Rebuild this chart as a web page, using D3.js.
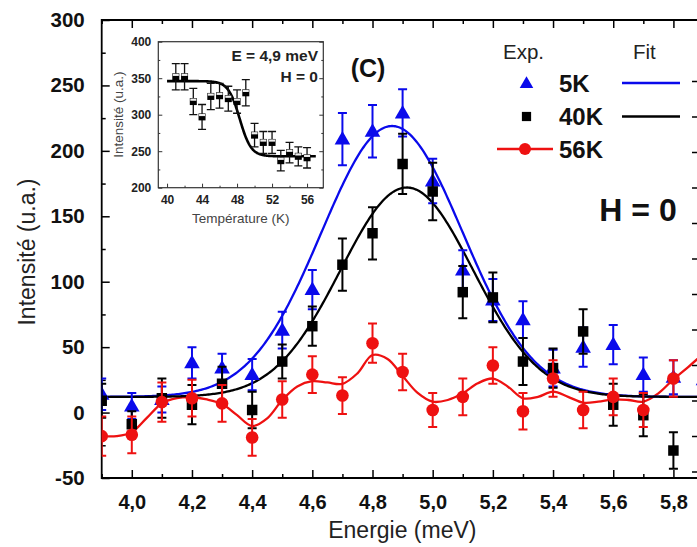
<!DOCTYPE html>
<html><head><meta charset="utf-8">
<script src="https://cdn.jsdelivr.net/npm/d3@7"></script>
<style>
body{margin:0;background:#fff}
svg{display:block}
text{font-family:"Liberation Sans",Arial,Helvetica,sans-serif}
</style>
</head><body>
<svg id="chart" width="697" height="547"></svg>
<script>
// ---------------- data ----------------
const energies = [3.9,4.0,4.1,4.2,4.3,4.4,4.5,4.6,4.7,4.8,4.9,5.0,5.1,5.2,5.3,5.4,5.5,5.6,5.7,5.8,5.9];
const i5K   = [14, 5, 10, 38, 34, 29, 63, 94, 209, 215, 229, 177, 109, 86, 71, 34, 50, 52, 29, 27, 25];
const e5K   = [12, 10, 10, 12, 11, 12, 14, 15, 20, 20, 18, 17, 15, 16, 14, 14, 15, 15, 13, 13, 13];
const i40K  = [9, -9, 11, 6, 22, 2, 39, 66, 113, 137, 190, 169, 92, 88, 39, 34, 62, 6, -2, -29, null];
const e40K  = [13, 10, 15, 15, 13, 14, 13, 15, 20, 20, 23, 22, 20, 19, 18, 15, 17, 16, 16, 14, null];
const i56K  = [-18, -17, 8, 11, 7, -19, 10, 29, 13, 53, 31, 2, 12, 36, 1, 26, 2, 12, 2, 26, 45];
const e56K  = [15, 14, 15, 14, 14, 14, 14, 14, 14, 15, 14, 13, 14, 14, 14, 14, 14, 14, 13, 14, 14];

// Gaussian fits: [baseline, amplitude, centre, sigma]
const fit5K  = [12, 207, 4.865, 0.235];
const fit40K = [12, 160, 4.914, 0.22];
// 56K fit curve
const fit56KE = [3.9,3.95,4.0,4.05,4.1,4.15,4.2,4.25,4.3,4.35,4.4,4.45,4.5,4.55,4.6,4.65,4.7,4.75,4.8,4.85,4.9,4.95,5.0,5.05,5.1,5.15,5.2,5.25,5.3,5.35,5.4,5.45,5.5,5.55,5.6,5.65,5.7,5.75,5.8,5.85,5.9];
const fit56KI = [-18,-18,-15,-4,7,11,11.7,10,6.5,-2,-10.3,-4.4,9.6,20,24,23,22,30,44,41,28,15,8.3,9.6,14.7,22.4,26,19.8,10.9,12,16,12,7.6,8.3,10,9.6,8.3,14.7,25.4,35,45];

const xMajorTicks = [4.0,4.2,4.4,4.6,4.8,5.0,5.2,5.4,5.6,5.8];
const xMinorTicks = [3.9,4.1,4.3,4.5,4.7,4.9,5.1,5.3,5.5,5.7];
const yMajorTicks = [-50,0,50,100,150,200,250,300];
const yMinorTicks = [-25,25,75,125,175,225,275];
const rightTicks  = [0,1,2,3,4,5,6,7,8,9,10,11];

// inset
const insetT   = [41,42,43,44,45,46,47,48,49,50,51,52,53,54,55,56];
const insetI   = [352,352,318,297,325,326,322,318,330,272,262,262,237,248,243,241];
const insetErr = [18,18,18,17,18,17,17,16,18,16,15,15,14,14,13,14];
const insetFit = [243, 103, 48.3, 0.65]; // low, step, mid, width
const insetXTicks = [40,44,48,52,56];
const insetXMinor = [42,46,50,54];
const insetYTicks = [200,250,300,350,400];
const insetYMinor = [225,275,325,375];

const legendLabels = ["5K","40K","56K"];

// ---------------- drawing ----------------
const svg = d3.select("#chart");
const BLUE = "#0a0aeb", RED = "#ee1111", BLACK = "#000";

const L = 101.7, R = 703.5, T = 20, B = 478;
const x = d3.scaleLinear().domain([3.9, 5.9]).range([L, R]);
const y = d3.scaleLinear().domain([-50, 300]).range([B, T]);

const fmtX = d => d.toFixed(1).replace(".", ",");

function drawAxis(axis, tf) {
  const g = svg.append("g").attr("transform", tf).call(axis);
  g.select(".domain").remove();
  g.selectAll(".tick line").attr("stroke", "#000").attr("stroke-width", 1.5);
  return g;
}
const gxb = drawAxis(d3.axisBottom(x).tickValues(xMajorTicks).tickSize(-8).tickPadding(17).tickFormat(fmtX), `translate(0,${B})`);
gxb.selectAll("text").attr("font-size", 20).attr("font-weight", "bold").attr("fill", "#111")
   .attr("font-family", "Liberation Sans, Arial, sans-serif");
drawAxis(d3.axisBottom(x).tickValues(xMinorTicks).tickSize(-4).tickFormat(""), `translate(0,${B})`);
drawAxis(d3.axisTop(x).tickValues(xMajorTicks).tickSize(-8).tickFormat(""), `translate(0,${T})`);
drawAxis(d3.axisTop(x).tickValues(xMinorTicks).tickSize(-4).tickFormat(""), `translate(0,${T})`);
const gyl = drawAxis(d3.axisLeft(y).tickValues(yMajorTicks).tickSize(-8).tickPadding(17).tickFormat(d => String(d)), `translate(${L},0)`);
gyl.selectAll("text").attr("font-size", 20.5).attr("font-weight", "bold").attr("fill", "#111")
   .attr("font-family", "Liberation Sans, Arial, sans-serif");
drawAxis(d3.axisLeft(y).tickValues(yMinorTicks).tickSize(-4).tickFormat(""), `translate(${L},0)`);
// right-hand ticks of the neighbouring (cropped) axis
const yRight = d3.scaleLinear().domain([0, 1]).range([81, 116.5]);
drawAxis(d3.axisRight(yRight).tickValues(rightTicks).tickSize(-5).tickFormat(""), `translate(697,0)`);

// frame
svg.append("path").attr("d", `M${R},${T}H${L}V${B}H${R}`).attr("fill", "none")
   .attr("stroke", "#000").attr("stroke-width", 1.8);

// axis titles
svg.append("text").attr("x", (L + 697) / 2 + 3).attr("y", 538).attr("text-anchor", "middle")
   .attr("font-size", 23).attr("fill", "#222").text("Energie (meV)");
svg.append("text").attr("transform", `translate(35,${(T + B) / 2 + 3}) rotate(-90)`)
   .attr("text-anchor", "middle").attr("font-size", 23).attr("fill", "#222").text("Intensité (u.a.)");

// plot clip
svg.append("clipPath").attr("id", "plotclip").append("rect")
   .attr("x", L).attr("y", T).attr("width", R - L).attr("height", B - T);
const plot = svg.append("g").attr("clip-path", "url(#plotclip)");

const gauss = (p, e) => p[0] + p[1] * Math.exp(-((e - p[2]) ** 2) / (2 * p[3] * p[3]));
const fineE = d3.range(3.9, 5.9001, 0.005);
const line = d3.line().x(d => x(d[0])).y(d => y(d[1]));

plot.append("path").datum(fit56KE.map((e, i) => [e, fit56KI[i]]))
    .attr("d", d3.line().x(d => x(d[0])).y(d => y(d[1])).curve(d3.curveCatmullRom.alpha(0.5)))
    .attr("fill", "none").attr("stroke", RED).attr("stroke-width", 2.3);
plot.append("path").datum(fineE.map(e => [e, gauss(fit5K, e)])).attr("d", line)
    .attr("fill", "none").attr("stroke", BLUE).attr("stroke-width", 2.3);
plot.append("path").datum(fineE.map(e => [e, gauss(fit40K, e)])).attr("d", line)
    .attr("fill", "none").attr("stroke", BLACK).attr("stroke-width", 2.3);

function errorBars(g, vals, errs, color, cap) {
  const pts = energies.map((e, i) => ({e, v: vals[i], s: errs[i]})).filter(d => d.v !== null);
  const eg = g.append("g").attr("stroke", color).attr("stroke-width", 2).attr("fill", "none");
  pts.forEach(d => {
    const xx = x(d.e), y1 = y(d.v + d.s), y2 = y(d.v - d.s);
    eg.append("path").attr("d", `M${xx},${y1}V${y2}M${xx - cap},${y1}H${xx + cap}M${xx - cap},${y2}H${xx + cap}`);
  });
  return pts;
}
const triSym = d3.symbol().type(d3.symbolTriangle).size(105);
const sqSym = d3.symbol().type(d3.symbolSquare).size(110);

// 5K
const p5 = errorBars(plot, i5K, e5K, BLUE, 4.5);
plot.append("g").selectAll("path").data(p5).join("path")
    .attr("transform", d => `translate(${x(d.e)},${y(d.v) + 1})`).attr("d", triSym).attr("fill", BLUE);
// 40K
const p40 = errorBars(plot, i40K, e40K, BLACK, 4.5);
plot.append("g").selectAll("path").data(p40).join("path")
    .attr("transform", d => `translate(${x(d.e)},${y(d.v)})`).attr("d", sqSym).attr("fill", BLACK);
// 56K
const p56 = errorBars(plot, i56K, e56K, RED, 4.5);
plot.append("g").selectAll("circle").data(p56).join("circle")
    .attr("cx", d => x(d.e)).attr("cy", d => y(d.v)).attr("r", 6.3).attr("fill", RED);

// labels
svg.append("text").attr("x", 368).attr("y", 77).attr("text-anchor", "middle")
   .attr("font-size", 25).attr("font-weight", "bold").attr("fill", "#111").text("(C)");
svg.append("text").attr("x", 638).attr("y", 221).attr("text-anchor", "middle")
   .attr("font-size", 32).attr("font-weight", "bold").attr("fill", "#111").text("H = 0");

// legend
svg.append("text").attr("x", 503).attr("y", 59).attr("font-size", 20.5).attr("fill", "#222").text("Exp.");
svg.append("text").attr("x", 633).attr("y", 59).attr("font-size", 20.5).attr("fill", "#222").text("Fit");
const legY = [83, 116.5, 149];
svg.append("path").attr("transform", `translate(526.5,${legY[0] + 1})`).attr("d", d3.symbol().type(d3.symbolTriangle).size(80)).attr("fill", BLUE);
svg.append("path").attr("transform", `translate(526.5,${legY[1]})`).attr("d", d3.symbol().type(d3.symbolSquare).size(85)).attr("fill", BLACK);
svg.append("path").attr("d", `M497,${legY[2]}H553`).attr("stroke", RED).attr("stroke-width", 2.3);
svg.append("circle").attr("cx", 525).attr("cy", legY[2]).attr("r", 6).attr("fill", RED);
svg.append("path").attr("d", `M622,${legY[0]}H680`).attr("stroke", BLUE).attr("stroke-width", 2.3);
svg.append("path").attr("d", `M622,${legY[1]}H680`).attr("stroke", BLACK).attr("stroke-width", 2.3);
legendLabels.forEach((t, i) => {
  svg.append("text").attr("x", 559).attr("y", legY[i] + 8.5).attr("font-size", 24)
     .attr("font-weight", "bold").attr("fill", "#111").text(t);
});

// ---------------- inset ----------------
const iL = 158.3, iR = 323.3, iT = 41.7, iB = 187.7;
const ix = d3.scaleLinear().domain([39, 57.857]).range([iL, iR]);
const iy = d3.scaleLinear().domain([200, 400]).range([iB, iT]);
const ins = svg.append("g");
ins.append("rect").attr("x", iL).attr("y", iT).attr("width", iR - iL).attr("height", iB - iT)
   .attr("fill", "#fff").attr("stroke", "#333").attr("stroke-width", 1.2);
function insAxis(axis, tf) {
  const g = ins.append("g").attr("transform", tf).call(axis);
  g.select(".domain").remove();
  g.selectAll(".tick line").attr("stroke", "#333").attr("stroke-width", 1);
  g.selectAll("text").attr("font-size", 12).attr("font-weight", "bold").attr("fill", "#222")
   .attr("font-family", "Liberation Sans, Arial, sans-serif");
  return g;
}
insAxis(d3.axisBottom(ix).tickValues(insetXTicks).tickSize(-4).tickPadding(8).tickFormat(d => d), `translate(0,${iB})`);
insAxis(d3.axisBottom(ix).tickValues(insetXMinor).tickSize(-2).tickFormat(""), `translate(0,${iB})`);
insAxis(d3.axisLeft(iy).tickValues(insetYTicks).tickSize(-4).tickPadding(7).tickFormat(d => d), `translate(${iL},0)`);
insAxis(d3.axisLeft(iy).tickValues(insetYMinor).tickSize(-2).tickFormat(""), `translate(${iL},0)`);
insAxis(d3.axisRight(iy).tickValues(insetYTicks).tickSize(-4).tickFormat(""), `translate(${iR},0)`);
insAxis(d3.axisRight(iy).tickValues(insetYMinor).tickSize(-2).tickFormat(""), `translate(${iR},0)`);

ins.append("text").attr("x", (iL + iR) / 2).attr("y", 223).attr("text-anchor", "middle")
   .attr("font-size", 13.5).attr("fill", "#444").text("Température (K)");
ins.append("text").attr("transform", `translate(123,${(iT + iB) / 2}) rotate(-90)`).attr("text-anchor", "middle")
   .attr("font-size", 13.5).attr("fill", "#444").text("Intensité (u.a.)");
ins.append("text").attr("x", 318).attr("y", 61).attr("text-anchor", "end")
   .attr("font-size", 15.5).attr("font-weight", "bold").attr("fill", "#222").text("E = 4,9 meV");
ins.append("text").attr("x", 318).attr("y", 82).attr("text-anchor", "end")
   .attr("font-size", 15.5).attr("font-weight", "bold").attr("fill", "#222").text("H = 0");

const sig = (p, t) => p[0] + p[1] / (1 + Math.exp((t - p[2]) / p[3]));
const insFitT = d3.range(40, 57.0001, 0.05);
ins.append("path").datum(insFitT.map(t => [t, sig(insetFit, t)]))
   .attr("d", d3.line().x(d => ix(d[0])).y(d => iy(d[1])))
   .attr("fill", "none").attr("stroke", "#000").attr("stroke-width", 2.6);
const ipts = insetT.map((t, i) => ({t, v: insetI[i], s: insetErr[i]}));
const ieg = ins.append("g").attr("stroke", "#111").attr("stroke-width", 1.3).attr("fill", "none");
ipts.forEach(d => {
  const xx = ix(d.t), y1 = iy(d.v + d.s), y2 = iy(d.v - d.s);
  ieg.append("path").attr("d", `M${xx},${y1}V${y2}M${xx - 4},${y1}H${xx + 4}M${xx - 4},${y2}H${xx + 4}`);
});
const sq = ins.append("g").selectAll("g").data(ipts).join("g")
   .attr("transform", d => `translate(${ix(d.t)},${iy(d.v)})`);
sq.append("rect").attr("x", -3.5).attr("y", -3.5).attr("width", 7).attr("height", 7).attr("fill", "#000");
sq.append("rect").attr("x", -3).attr("y", -3).attr("width", 6).attr("height", 2.2).attr("fill", "#eee");
</script>
</body></html>
